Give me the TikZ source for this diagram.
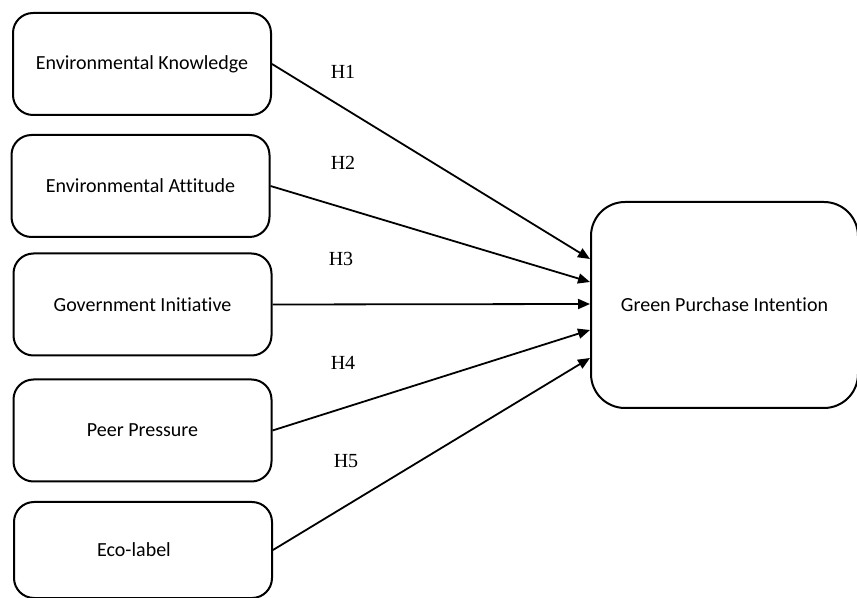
\documentclass[tikz,border=0pt]{standalone}
\usepackage{fontspec}
\setmainfont{Carlito}[Ligatures=NoCommon]
\newfontfamily\hypfont{Liberation Serif}
\usetikzlibrary{positioning,arrows.meta}

\begin{document}
\begin{tikzpicture}[x=0.5pt, y=-0.5pt, font=\fontsize{10}{12}\selectfont,
    factor/.style={draw, rectangle, rounded corners=10pt, line width=1pt,
        minimum width=129pt, minimum height=51pt, inner sep=0pt},
    target/.style={draw, rectangle, rounded corners=17pt, line width=1pt,
        minimum width=133.5pt, minimum height=103pt, inner sep=0pt},
    hyp/.style={font=\hypfont\fontsize{10}{12}\selectfont, inner sep=0pt},
    path/.style={-{Triangle[length=6pt,width=5pt]}, line width=0.9pt}]
        \useasboundingbox (0,0) rectangle (857,598);

        % constructs
        \node[factor] (know) at (142,64) {Environmental Knowledge};
        \node[factor] (att) at (140.5,186) {Environmental Attitude};
        \node[factor] (gov) at (142.5,304.5) {Government Initiative};
        \node[factor] (peer) at (142.5,430.5) {Peer Pressure};
        \node[factor, minimum height=48pt] (eco) at (143,550) {\hspace*{-9pt}Eco-label};
        \node[target] (gpi) at (724.5,305) {Green Purchase Intention};

        % hypotheses
        \node[hyp] (h1) at (343,72) {H1};
        \node[hyp] (h2) at (343,163) {H2};
        \node[hyp] (h3) at (341,259) {H3};
        \node[hyp] (h4) at (343,363) {H4};
        \node[hyp] (h5) at (346,461) {H5};

        \draw[path] (know.east) -- ([yshift=23pt]gpi.west);
        \draw[path] (att.east) -- ([yshift=11.5pt]gpi.west);
        \draw[path] (gov.east) -- ([yshift=0.5pt]gpi.west);
        \draw[path] (peer.east) -- ([yshift=-12.5pt]gpi.west);
        \draw[path] (eco.east) -- ([yshift=-26.5pt]gpi.west);
    \end{tikzpicture}
\end{document}
